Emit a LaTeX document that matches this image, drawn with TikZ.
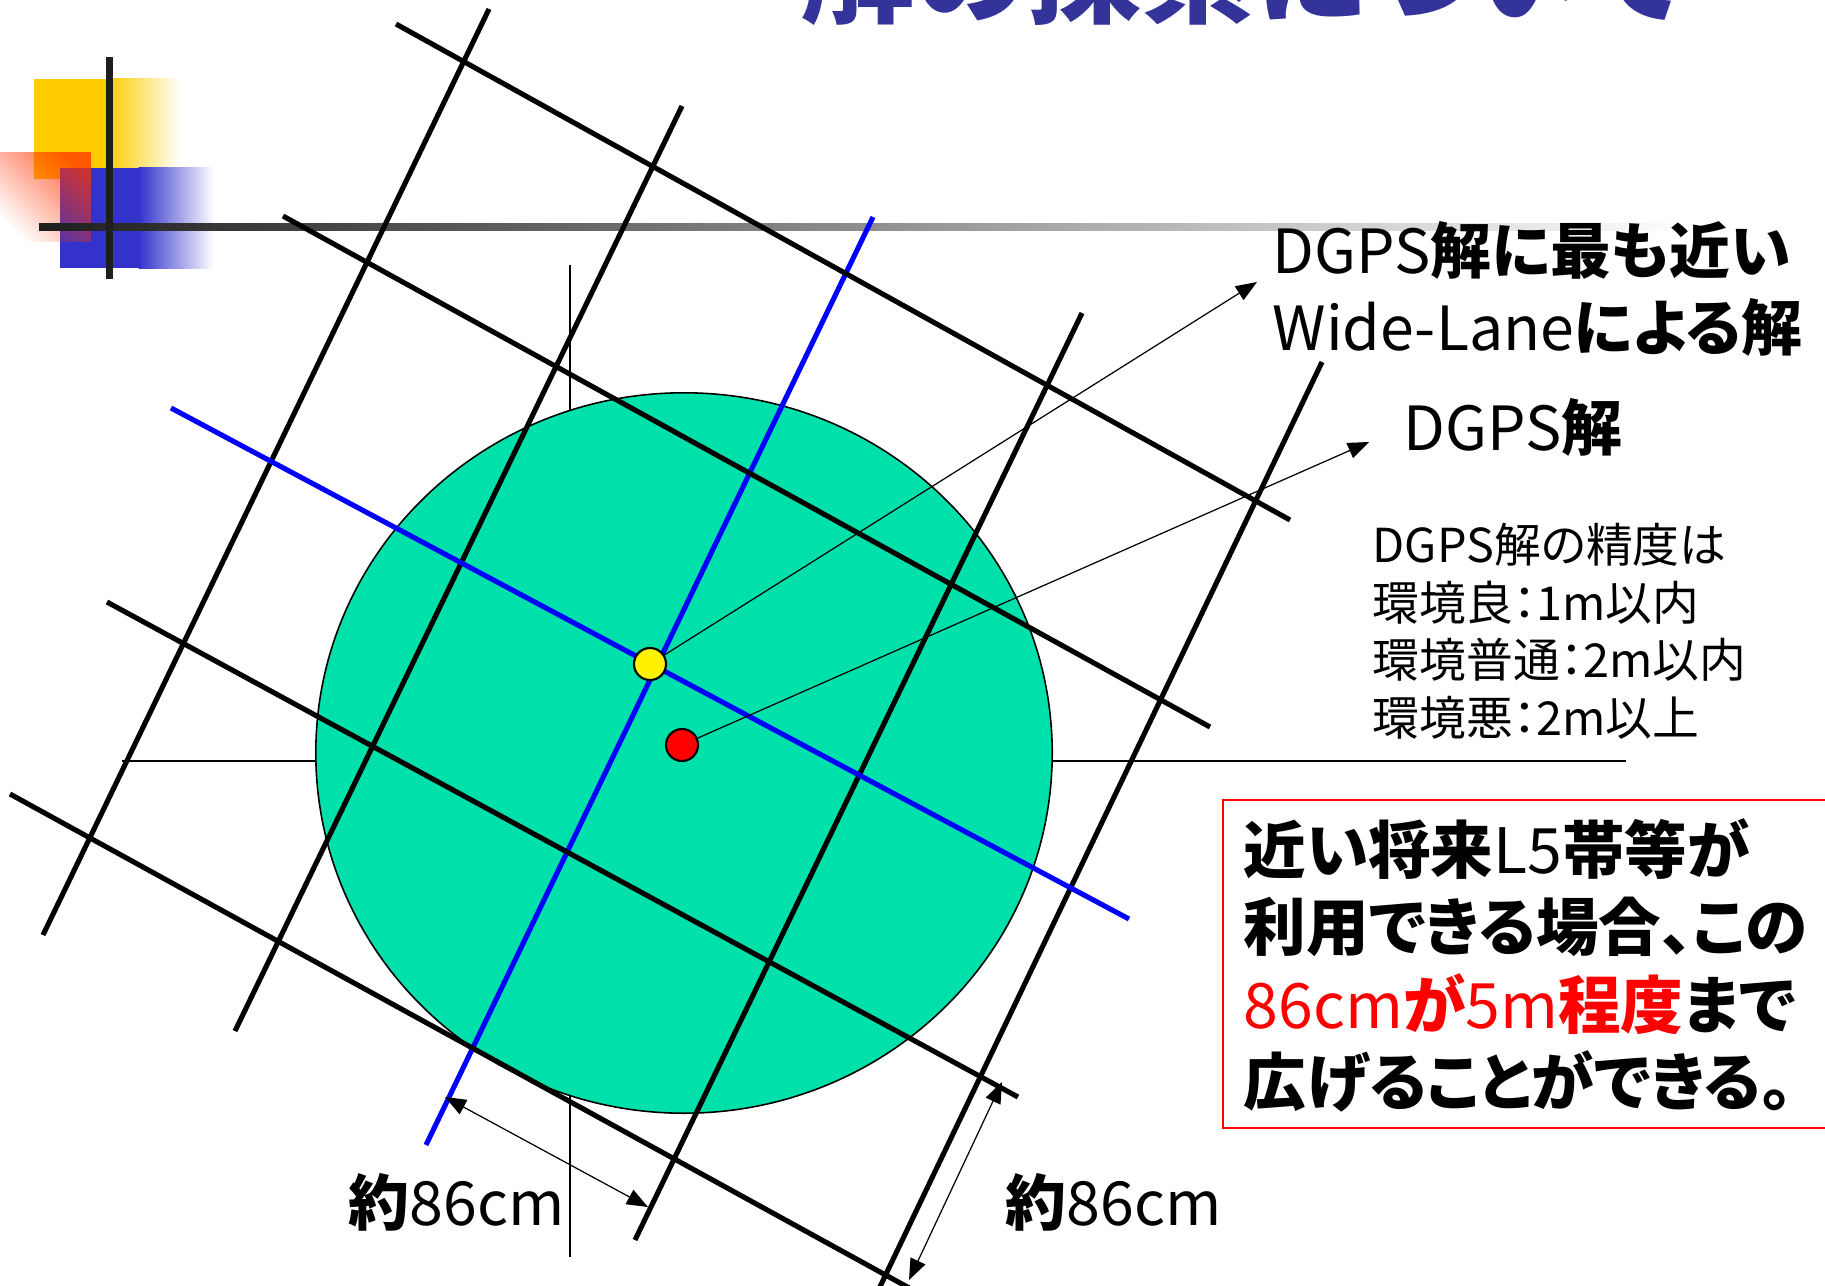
\documentclass[tikz,border=0pt]{standalone}
\usepackage{fontspec}
\setmainfont{Noto Sans CJK JP}[RawFeature=+palt]
\usetikzlibrary{arrows.meta,fadings}
\definecolor{titleblue}{HTML}{333399}
\definecolor{mint}{HTML}{00E0AA}
\definecolor{decoyellow}{HTML}{FFCC00}
\definecolor{decoblue}{HTML}{3333CC}
\definecolor{decored}{HTML}{FF3300}
\definecolor{barblack}{HTML}{1E1E1E}
\tikzfading[name=diagfade, top color=transparent!25, bottom color=transparent!100]
\tikzset{
  gridline/.style={line width=1.45pt, black},
  bluegrid/.style={line width=1.45pt, blue},
  axisline/.style={line width=0.4pt, black},
  annarrow/.style={line width=0.35pt, black, -{Triangle[length=6pt,width=4.6pt]}},
  dimarrow/.style={line width=0.35pt, black, {Triangle[length=6pt,width=4.6pt]}-{Triangle[length=6pt,width=4.6pt]}},
  dot/.style={circle, draw, line width=0.6pt, minimum size=0.32cm, inner sep=0pt},
  lbl/.style={inner sep=0pt, anchor=base west, font=\fontsize{17.3}{20}\selectfont},
  smalltxt/.style={inner sep=0pt, anchor=base west, font=\fontsize{13.3}{16}\selectfont},
  boxtxt/.style={inner sep=0pt, anchor=base west, font=\fontsize{17.8}{21}\selectfont},
}
\begin{document}
\begin{tikzpicture}[x=0.01cm, y=-0.01cm]
\useasboundingbox (0,0) rectangle (1825,1285);
\clip (0,0) rectangle (1825,1285);
\fill[white] (0,0) rectangle (1825,1285);
% decoration top-left
\fill[decoyellow] (34,79) rectangle (108,179);
\shade[left color=decoyellow, right color=white] (107.5,79) rectangle (180,179);
\fill[decoblue] (60,168) rectangle (139,268);
\shade[left color=decoblue, right color=white] (138.5,168) rectangle (214,268);
\fill[decored, path fading=diagfade, fading angle=-45] (0,152) rectangle (91,242);
\shade[left color=barblack, right color=white] (39,223) rectangle (1700,230);
\fill[barblack] (106,57) rectangle (113,279);
% title (cut off at top)
\node[inner sep=0pt, anchor=base west, text=titleblue, font=\fontsize{32.5}{36}\selectfont\bfseries] (title) at (800,15) {解の探索について};
% thin axes (under the circle)
\draw[axisline] (122,761) -- (1626,761);
\draw[axisline] (570,265) -- (570,1257);
% circle
\draw[fill=mint, line width=0.45pt] (684,753) ellipse [x radius=3.68cm, y radius=3.6cm];
% ascending grid lines
\draw[gridline] (43,935) -- (489,9);
\draw[gridline] (235,1031) -- (682,106);
\draw[bluegrid] (426,1145) -- (873,217);
\draw[gridline] (635,1240) -- (1082,313);
\draw[gridline] (876,1295) -- (1322,362);
% descending grid lines
\draw[gridline] (396,24) -- (1290,520);
\draw[gridline] (283,216) -- (1210,727);
\draw[bluegrid] (171,408) -- (1129,919);
\draw[gridline] (107,602) -- (1018,1097);
\draw[gridline] (10,794) -- (922,1295);
% solution dots
\node[dot, fill=yellow] (ydot) at (650,664) {};
\node[dot, fill=red] (rdot) at (682,745) {};
% annotation arrows
\coordinate (tipA) at (1257,282);
\coordinate (tipB) at (1369,442);
\draw[annarrow] (ydot) -- (tipA);
\draw[annarrow] (rdot) -- (tipB);
% dimension arrows
\coordinate (dimLa) at (445,1097);
\coordinate (dimLb) at (648,1207);
\coordinate (dimRa) at (1002,1082);
\coordinate (dimRb) at (909,1280);
\draw[dimarrow] (dimLa) -- (dimLb);
\draw[dimarrow] (dimRa) -- (dimRb);
\node[lbl] (dimLt) at (348,1225) {\textbf{約}86cm};
\node[lbl] (dimRt) at (1005,1225) {\textbf{約}86cm};
% labels
\node[lbl] (lab1) at (1272,273) {DGPS\textbf{解に最も近い}};
\node[lbl] (lab2) at (1272,350) {Wide-Lane\textbf{による解}};
\node[lbl] (lab3) at (1403,450) {DGPS\textbf{解}};
% accuracy block
\node[smalltxt] (acc1) at (1372,562) {DGPS解の精度は};
\node[smalltxt] (acc2) at (1372,620) {環境良：1m以内};
\node[smalltxt] (acc3) at (1372,677) {環境普通：2m以内};
\node[smalltxt] (acc4) at (1372,735) {環境悪：2m以上};
% red box
\draw[red, line width=0.45pt] (1223,800) rectangle (1840,1128);
\node[boxtxt] (box1) at (1243,873) {\textbf{近い将来}L5\textbf{帯等が}};
\node[boxtxt] (box2) at (1243,950) {\textbf{利用できる場合、この}};
\node[boxtxt] (box3) at (1243,1028) {\textcolor{red}{86cm\textbf{が}5m\textbf{程度}}\textbf{まで}};
\node[boxtxt] (box4) at (1243,1105) {\textbf{広げることができる。}};
\end{tikzpicture}
\end{document}
